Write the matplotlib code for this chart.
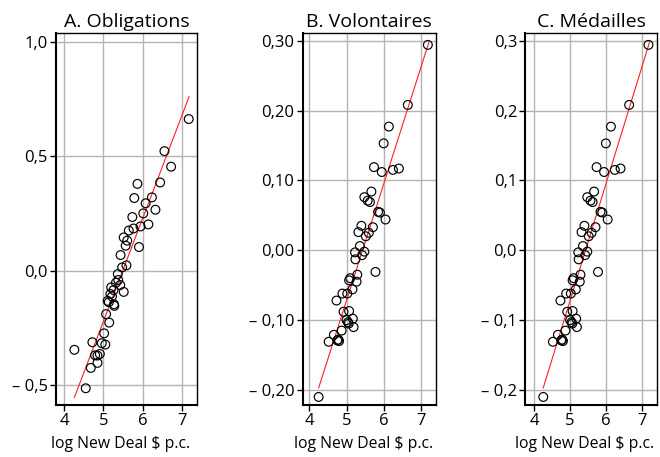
import matplotlib
matplotlib.use("Agg")
import matplotlib.pyplot as plt
from matplotlib.ticker import FixedLocator

plt.rcParams['font.family'] = ['Open Sans', 'DejaVu Sans']

# Panel A: Obligations
obl_x = [7.18, 6.56, 6.73, 6.45, 5.87, 5.79, 6.24, 6.08, 6.33, 6.02, 5.74, 6.15,
         5.95, 5.77, 5.65, 5.52, 5.61, 5.57, 5.91, 5.44, 5.59, 5.48, 5.37, 5.38,
         5.43, 5.32, 5.20, 5.26, 5.52, 5.18, 5.22, 5.11, 5.14, 5.27, 5.28, 5.07,
         5.15, 5.02, 5.05, 4.96, 4.72, 4.26, 4.79, 4.91, 4.85, 4.85, 4.68, 4.55]
obl_y = [0.662, 0.522, 0.454, 0.385, 0.379, 0.317, 0.320, 0.294, 0.266, 0.250, 0.234, 0.202,
         0.193, 0.184, 0.175, 0.145, 0.131, 0.109, 0.103, 0.068, 0.023, 0.014, -0.015, -0.041,
         -0.063, -0.053, -0.073, -0.085, -0.093, -0.102, -0.113, -0.132, -0.138, -0.147, -0.154, -0.190,
         -0.227, -0.274, -0.323, -0.317, -0.313, -0.346, -0.370, -0.364, -0.371, -0.403, -0.425, -0.514]
obl_fit_x = [4.26, 7.19]
obl_fit_y = [-0.554, 0.760]

# Panels B and C: Volontaires / Médailles
vol_x = [7.19, 6.65, 6.14, 6.00, 5.74, 5.95, 6.25, 6.41, 5.67, 5.48, 5.57, 5.63,
         5.85, 5.90, 6.05, 5.71, 5.40, 5.32, 5.60, 5.52, 5.36, 5.48, 5.23, 5.42,
         5.24, 5.78, 5.29, 5.10, 5.07, 5.27, 5.16, 5.02, 4.89, 4.73, 5.07, 4.92,
         5.17, 5.00, 5.04, 5.06, 5.19, 4.87, 4.66, 4.52, 4.75, 4.80, 4.78, 4.25]
vol_y = [0.294, 0.208, 0.177, 0.153, 0.119, 0.112, 0.115, 0.117, 0.084, 0.076, 0.071, 0.069,
         0.055, 0.054, 0.044, 0.033, 0.035, 0.026, 0.025, 0.020, 0.006, -0.002, -0.003, -0.007,
         -0.013, -0.031, -0.035, -0.040, -0.043, -0.045, -0.056, -0.062, -0.062, -0.072, -0.087, -0.088,
         -0.098, -0.100, -0.103, -0.105, -0.110, -0.115, -0.121, -0.131, -0.129, -0.130, -0.128, -0.210]
vol_fit_x = [4.25, 7.22]
vol_fit_y = [-0.197, 0.298]

xticks = [4, 5, 6, 7]
a_yticks = [-0.5, 0.0, 0.5, 1.0]
a_ylabels = ['\u2013 0,5', '0,0', '0,5', '1,0']
b_yticks = [-0.2, -0.1, 0.0, 0.1, 0.2, 0.3]
b_ylabels = ['\u2013 0,20', '\u2013 0,10', '0,00', '0,10', '0,20', '0,30']
c_ylabels = ['\u2013 0,2', '\u2013 0,1', '0,0', '0,1', '0,2', '0,3']

fig = plt.figure(figsize=(6.6, 4.57), dpi=100)

panels = [
    ("A. Obligations", [0.0848, 0.1138, 0.2136, 0.814], obl_x, obl_y, obl_fit_x, obl_fit_y,
     (3.79, 7.39), (-0.587, 1.038), a_yticks, a_ylabels, 0.461),
    ("B. Volontaires", [0.4586, 0.1138, 0.2015, 0.814], vol_x, vol_y, vol_fit_x, vol_fit_y,
     (3.82, 7.40), (-0.2215, 0.311), b_yticks, b_ylabels, 0.459),
    ("C. M\u00e9dailles", [0.796, 0.1138, 0.199, 0.814], vol_x, vol_y, vol_fit_x, vol_fit_y,
     (3.75, 7.42), (-0.2215, 0.311), b_yticks, c_ylabels, 0.452),
]

for title, rect, x, y, fx, fy, xl, yl, yt, ytl, lx in panels:
    ax = fig.add_axes(rect)
    ax.set_axisbelow(True)
    ax.grid(True, color='#b4b4b4', linewidth=1.0)
    ax.plot(fx, fy, color='#ff2020', linewidth=0.8, zorder=2)
    ax.scatter(x, y, s=40, facecolors='none', edgecolors='black', linewidths=0.85, zorder=3)
    ax.set_xlim(*xl)
    ax.set_ylim(*yl)
    ax.xaxis.set_major_locator(FixedLocator(xticks))
    ax.set_xticklabels([str(t) for t in xticks])
    ax.set_yticks(yt)
    ax.set_yticklabels(ytl)
    ax.tick_params(direction='out', length=4, width=1.0, labelsize=12, pad=2)
    for side in ['left', 'bottom']:
        ax.spines[side].set_linewidth(1.5)
    for side in ['top', 'right']:
        ax.spines[side].set_linewidth(1.0)
    ax.set_title(title, fontsize=14, pad=4)
    ax.set_xlabel('log New Deal $ p.c.', fontsize=11.3, labelpad=5)
    ax.xaxis.label.set_x(lx)

fig.savefig('out.png', dpi=100)
